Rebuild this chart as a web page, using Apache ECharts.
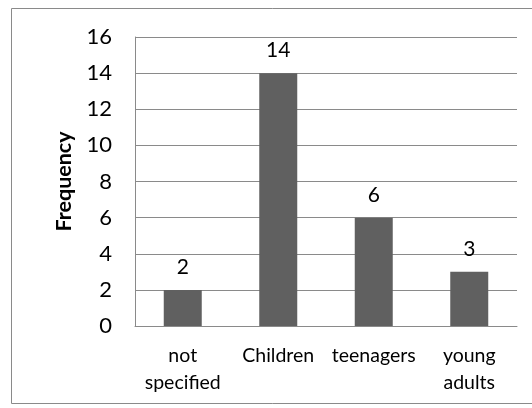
<!DOCTYPE html>
<html>
<head>
<meta charset="utf-8">
<script src="https://cdn.jsdelivr.net/npm/echarts@6/dist/echarts.min.js"></script>
<style>
html,body{margin:0;padding:0;background:#fff;}
#chart{width:532px;height:408px;}
</style>
</head>
<body>
<div id="chart"></div>
<script>
const categories = ['not\nspecified', 'Children', 'teenagers', 'young\nadults'];
const frequency = [2, 14, 6, 3];
const yTicks = [0, 2, 4, 6, 8, 10, 12, 14, 16];

const FONT = 'Lato';
const chart = echarts.init(document.getElementById('chart'), null, {renderer: 'canvas'});
chart.setOption({
  animation: false,
  backgroundColor: '#ffffff',
  graphic: [{
    type: 'rect',
    shape: {x: 11.5, y: 8.5, width: 540, height: 395},
    style: {fill: 'none', stroke: '#8a8a8a', lineWidth: 1},
    silent: true
  }],
  grid: {left: 135, right: 15, top: 37, bottom: 82, containLabel: false},
  xAxis: {
    type: 'category',
    data: categories,
    axisLine: {lineStyle: {color: '#8a8a8a', width: 1}},
    axisTick: {show: false},
    axisLabel: {
      color: '#000', fontFamily: FONT, fontSize: 19.5, lineHeight: 27,
      margin: 16, interval: 0, align: 'center'
    }
  },
  yAxis: {
    type: 'value',
    min: yTicks[0], max: yTicks[yTicks.length - 1], interval: 2,
    name: 'Frequency',
    nameLocation: 'middle',
    nameGap: 60,
    nameTextStyle: {color: '#000', fontFamily: FONT, fontSize: 21.5, fontWeight: 'bold'},
    axisLine: {show: true, lineStyle: {color: '#8a8a8a', width: 1}},
    axisTick: {show: false},
    splitLine: {lineStyle: {color: '#8a8a8a', width: 1}},
    axisLabel: {color: '#000', fontFamily: FONT, fontSize: 22, margin: 23}
  },
  series: [{
    type: 'bar',
    data: frequency,
    barWidth: 38,
    itemStyle: {color: '#606060'},
    label: {
      show: true, position: 'top', distance: 12,
      color: '#000', fontFamily: FONT, fontSize: 21
    }
  }]
});
</script>
</body>
</html>
